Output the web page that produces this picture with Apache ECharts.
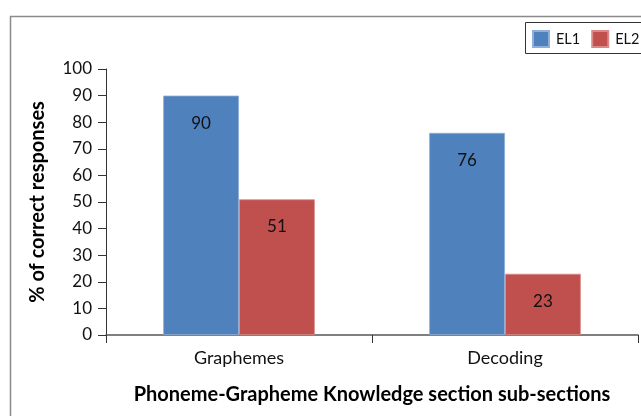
<!DOCTYPE html>
<html>
<head>
<meta charset="utf-8">
<script src="https://cdn.jsdelivr.net/npm/echarts@6/dist/echarts.min.js"></script>
<style>
html,body{margin:0;padding:0;background:#fff;}
#chart{width:641px;height:416px;}
</style>
</head>
<body>
<div id="chart"></div>
<script>
var categories = ['Graphemes', 'Decoding'];
var seriesNames = ['EL1', 'EL2'];
var el1Values = [90, 76];
var el2Values = [51, 23];
var yTicks = {min: 0, max: 100, interval: 10};

var font = 'Lato, "Open Sans", sans-serif';
var chart = echarts.init(document.getElementById('chart'));
chart.setOption({
  animation: false,
  backgroundColor: '#ffffff',
  graphic: [{
    type: 'rect', left: 8, top: 14, z: -1,
    shape: {width: 700, height: 500},
    style: {fill: 'none', stroke: '#8a8a8a', lineWidth: 1.5}
  }, {
    type: 'rect', left: 525, top: 22, z: 1,
    shape: {width: 200, height: 31},
    style: {fill: '#fff', stroke: '#333', lineWidth: 1}
  }],
  legend: {
    left: 532, top: 30, z: 5, width: 200, orient: 'horizontal',
    padding: 0,
    itemWidth: 16, itemHeight: 16, itemGap: 11,
    icon: 'rect',
    textStyle: {fontFamily: font, fontSize: 14.5, color: '#111', padding: [0, 0, 0, 2]},
    data: seriesNames
  },
  grid: {left: 106, right: 3, top: 69, bottom: 81, containLabel: false},
  xAxis: {
    type: 'category',
    data: categories,
    name: 'Phoneme-Grapheme Knowledge section sub-sections',
    nameLocation: 'middle',
    nameGap: 50,
    nameTextStyle: {fontFamily: font, fontSize: 20, fontWeight: 'bold', color: '#000'},
    axisLine: {lineStyle: {color: '#555', width: 1.5}},
    axisTick: {show: true, length: 8, lineStyle: {color: '#333'}},
    axisLabel: {fontFamily: font, fontSize: 18, color: '#111', margin: 14}
  },
  yAxis: {
    type: 'value',
    min: yTicks.min, max: yTicks.max, interval: yTicks.interval,
    name: '% of correct responses',
    nameLocation: 'middle',
    nameGap: 58,
    nameTextStyle: {fontFamily: font, fontSize: 20, fontWeight: 'bold', color: '#000'},
    axisLine: {show: true, lineStyle: {color: '#333', width: 1}},
    axisTick: {show: true, length: 8, lineStyle: {color: '#333'}},
    axisLabel: {fontFamily: font, fontSize: 17, color: '#111', margin: 14},
    splitLine: {show: false}
  },
  series: [{
    name: seriesNames[0], type: 'bar', data: el1Values,
    barGap: '0%', barCategoryGap: '43%',
    itemStyle: {color: '#4F81BD', borderColor: '#8fb0d8', borderWidth: 0.8},
    label: {show: true, position: 'insideTop', distance: 19, fontFamily: font, fontSize: 17, color: '#111'}
  }, {
    name: seriesNames[1], type: 'bar', data: el2Values,
    barGap: '0%', barCategoryGap: '43%',
    itemStyle: {color: '#C0504D', borderColor: '#d98a88', borderWidth: 0.8},
    label: {show: true, position: 'insideTop', distance: 19, fontFamily: font, fontSize: 17, color: '#111'}
  }]
});
</script>
</body>
</html>
